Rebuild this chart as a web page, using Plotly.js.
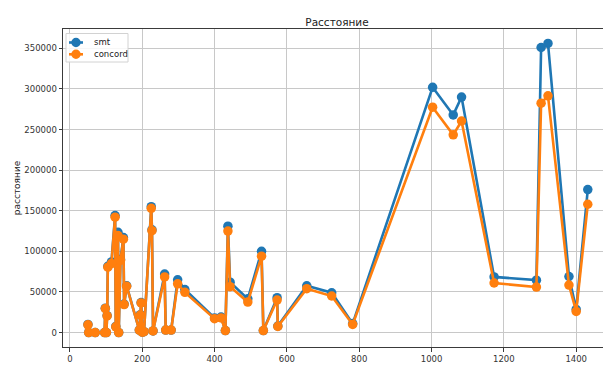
<!DOCTYPE html>
<html>
<head>
<meta charset="utf-8">
<script src="https://cdn.plot.ly/plotly-3.0.1.min.js"></script>
<style>
  html, body { margin: 0; padding: 0; overflow: hidden; background: #fff; }
  #chart { width: 620px; height: 380px; }
</style>
</head>
<body>
<div id="chart"></div>
<script>
// Number of vertices for each test graph
const vertices = [50, 52, 70, 96, 98, 101, 103, 105, 115, 125, 127, 133, 135, 140, 148, 150, 157,
  192, 195, 197, 200, 205, 225, 227, 230, 262, 265, 280, 298, 318, 400, 418, 430, 437, 443,
  492, 530, 535, 573, 575, 655, 724, 782, 1003, 1060, 1083, 1173, 1290, 1303, 1322, 1380,
  1400, 1432];

// Tour distance found by each solver
const smtDistance = [10000, 0, 0, 0, 30000, 0, 21000, 81500, 87000, 144000, 7500, 123500, 0, 90000,
  117000, 35000, 57500,
  3000, 22000, 37000, 500, 1000, 155000, 126500, 2000, 72000, 3000, 3000, 65000, 53000, 18000, 19000,
  2500, 131000, 62000,
  41500, 100000, 2500, 43000, 8000, 57500, 49000, 11000, 302000, 268000, 290000, 68500, 64500, 351000,
  356000, 69000,
  28500, 176000];

const concordDistance = [9500, 0, 0, 0, 29500, 0, 20500, 80500, 85000, 142000, 7000, 119500, 0, 89000,
  115000, 34500, 57000,
  3000, 21500, 36500, 500, 1000, 153000, 125500, 2000, 68500, 3000, 3000, 60000, 49500, 17000, 18000,
  2500, 125000, 56500,
  37500, 94000, 2500, 40000, 7500, 54000, 45000, 10000, 277500, 243500, 260500, 61000, 56000, 282500,
  291500, 58500,
  26000, 158000];

const seriesNames = ['smt', 'concord'];
const seriesColors = ['#1f77b4', '#ff7f0e'];
const xTicks = [0, 200, 400, 600, 800, 1000, 1200, 1400];
const yTicks = [0, 50000, 100000, 150000, 200000, 250000, 300000, 350000];

const font = 'DejaVu Sans, Liberation Sans, sans-serif';
const W = 620, H = 380;
const M = { l: 63, r: 8, t: 29, b: 32.5 };
const plotH = H - M.t - M.b;
const plotW = W - M.l - M.r;

const traces = [smtDistance, concordDistance].map((ys, i) => ({
  x: vertices, y: ys, name: seriesNames[i],
  type: 'scatter', mode: 'lines+markers',
  line: { color: seriesColors[i], width: 2.6 },
  marker: { color: seriesColors[i], size: 9.5 },
  showlegend: false
}));

// Compact legend box in the upper-left corner, laid out in pixels from the plot's top-left
const legendShapes = [{
  type: 'rect', layer: 'above',
  xref: 'paper', yref: 'paper', xsizemode: 'pixel', ysizemode: 'pixel',
  xanchor: 0, yanchor: 1, x0: 3, x1: 65, y0: -4.5, y1: -33,
  fillcolor: 'rgba(255,255,255,0.85)', line: { color: '#d2d2d2', width: 1 }
}];
const legendAnnotations = [];
const rowOffsets = [13.5, 25.3];
seriesNames.forEach((name, i) => {
  const dy = -rowOffsets[i];
  legendShapes.push({
    type: 'line', layer: 'above',
    xref: 'paper', yref: 'paper', xsizemode: 'pixel', ysizemode: 'pixel',
    xanchor: 0, yanchor: 1, x0: 6, x1: 20, y0: dy, y1: dy,
    line: { color: seriesColors[i], width: 2.6 }
  });
  legendShapes.push({
    type: 'circle', layer: 'above',
    xref: 'paper', yref: 'paper', xsizemode: 'pixel', ysizemode: 'pixel',
    xanchor: 0, yanchor: 1, x0: 8.3, x1: 17.7, y0: dy - 4.7, y1: dy + 4.7,
    fillcolor: seriesColors[i], line: { width: 0 }
  });
  legendAnnotations.push({
    text: name, xref: 'paper', yref: 'paper',
    x: 29 / plotW, y: 1 - rowOffsets[i] / plotH,
    xanchor: 'left', yanchor: 'middle', showarrow: false,
    font: { family: font, size: 8.5, color: '#222' }
  });
});

const axisCommon = {
  showline: true, mirror: true, linecolor: '#3a3a3a', linewidth: 1,
  showgrid: true, gridcolor: '#c8c8c8', gridwidth: 1,
  zeroline: false,
  ticks: 'outside', ticklen: 3.5, tickwidth: 1, tickcolor: '#3a3a3a',
  tickfont: { family: font, size: 8.5, color: '#333' }
};

const layout = {
  width: W, height: H,
  margin: M,
  paper_bgcolor: '#fff', plot_bgcolor: '#fff',
  showlegend: false,
  title: {
    text: 'Расстояние',
    font: { family: font, size: 10.5, color: '#222' },
    x: 337 / W, xanchor: 'center', y: 1 - 22 / H, yanchor: 'middle'
  },
  xaxis: Object.assign({}, axisCommon, {
    range: [-19, 1499],
    tickvals: xTicks, ticktext: xTicks.map(String),
    title: { text: 'кол-во вершин', font: { family: font, size: 9, color: '#222' }, standoff: 4 }
  }),
  yaxis: Object.assign({}, axisCommon, {
    range: [-17800, 373800],
    tickvals: yTicks, ticktext: yTicks.map(String),
    title: { text: 'расстояние', font: { family: font, size: 9, color: '#222' }, standoff: 2 }
  }),
  shapes: legendShapes,
  annotations: legendAnnotations
};

Plotly.newPlot('chart', traces, layout, { displayModeBar: false, staticPlot: true });
</script>
</body>
</html>
